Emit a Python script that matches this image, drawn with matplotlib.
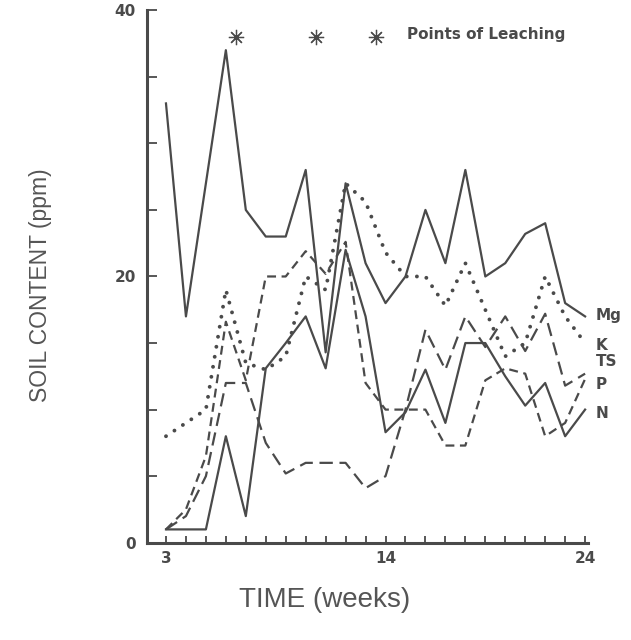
import matplotlib
matplotlib.use("Agg")
import matplotlib.pyplot as plt

# weekly soil readings (ppm)
weeks = list(range(3, 25))
mg = [33, 17, 27, 37, 25, 23, 23, 28, 14.3, 27, 21, 18, 20, 25, 21, 28, 20, 21, 23.2, 24, 18, 17]
k = [8, 9, 10, 19, 13.5, 13, 14, 20, 19, 27, 25.6, 21.8, 20, 20, 17.8, 21, 17.5, 14, 15, 20, 17, 15]
ts = [1, 2, 5, 12, 12, 7.5, 5.2, 6, 6, 6, 4.1, 5, 10, 16, 13, 17, 14.7, 17, 14.4, 17.2, 11.8, 12.7]
p = [1, 2.5, 6.5, 16.6, 12.2, 20, 20, 21.9, 20.2, 22.6, 12, 10, 10, 10, 7.3, 7.3, 12.2, 13.1, 12.7, 8, 9, 12.3]
n = [1, 1, 1, 8, 2, 13.1, 15, 17, 13.1, 22, 17, 8.3, 9.8, 13, 9, 15, 15, 12.5, 10.3, 12, 8, 10]

leach_weeks = [6.5, 10.5, 13.5]
x_labels = {3: "3", 14: "14", 24: "24"}

ink = "#4a4a4a"

fig = plt.figure(figsize=(6.31, 6.4), dpi=100)
ax = fig.add_axes([0.233, 0.152, 0.699, 0.832])

ax.plot(weeks, mg, color=ink, lw=1.6)
ax.plot(weeks, n, color=ink, lw=1.6)
ax.plot(weeks, k, color=ink, lw=2.8, linestyle=(0, (0.01, 2.6)), dash_capstyle="round")
ax.plot(weeks, ts, color=ink, lw=1.6, linestyle=(0, (6, 3)))
ax.plot(weeks, p, color=ink, lw=1.6, linestyle=(0, (4, 2.5)))

# series names at the right end, nudged so they don't collide
names = ["Mg", "K", "TS", "P", "N"]
series = [mg, k, ts, p, n]
nudge = [0.1, -0.15, 0.9, -0.45, -0.3]
for name, s, d in zip(names, series, nudge):
    ax.text(24.55, s[-1] + d, name, color=ink, fontsize=11, fontweight="bold",
            va="center", ha="left", clip_on=False)

# leaching markers
ax.plot(leach_weeks, [38] * len(leach_weeks), ls="none", marker=(8, 2, 0),
        ms=11, mew=0.9, color=ink, clip_on=False)
ax.text(15.1, 38.2, "Points of Leaching", color=ink, fontsize=11,
        fontweight="bold", va="center", ha="left")

ax.set_xlim(2.05, 24.15)
ax.set_ylim(0, 40)

ax.spines["top"].set_visible(False)
ax.spines["right"].set_visible(False)
for side in ("left", "bottom"):
    ax.spines[side].set_color(ink)
    ax.spines[side].set_linewidth(2.2)

ax.set_xticks(weeks)
ax.set_xticklabels([x_labels.get(w, "") for w in weeks])
ax.set_yticks(range(0, 45, 5))
ax.set_yticklabels([str(v) if v in (0, 20, 40) else "" for v in range(0, 45, 5)])
ax.tick_params(axis="x", direction="in", length=5, width=1.3, color=ink,
               labelcolor=ink, labelsize=11, pad=6)
ax.tick_params(axis="y", direction="in", length=7, width=1.3, color=ink,
               labelcolor=ink, labelsize=11, pad=8)
for lab in ax.get_xticklabels() + ax.get_yticklabels():
    lab.set_fontweight("bold")

fig.text(0.064, 0.555, "SOIL CONTENT (ppm)", rotation=90, ha="center", va="center",
         fontsize=16.5, color="#555555", family=["Liberation Sans", "DejaVu Sans"])
fig.text(0.515, 0.062, "TIME (weeks)", ha="center", va="center",
         fontsize=20, color="#555555", family=["Liberation Sans Narrow", "Liberation Sans", "DejaVu Sans"])

fig.savefig("out.png", dpi=100, facecolor="white")
